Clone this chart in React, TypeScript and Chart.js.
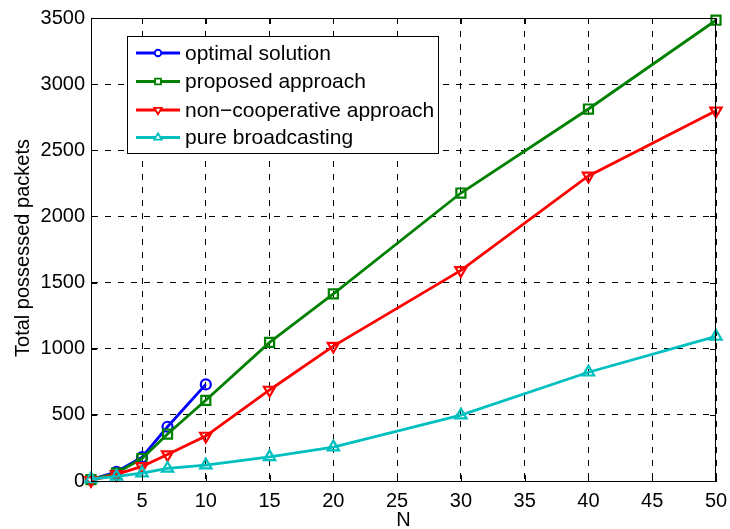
import React, { useEffect, useRef } from "react";
import { Chart, registerables } from "chart.js";
import { drawPoint } from "chart.js/helpers";

Chart.register(...registerables);

const X_ALL = [1, 3, 5, 7, 10, 15, 20, 30, 40, 50];
const X_OPT = [1, 3, 5, 7, 10];
const OPTIMAL = [10, 70, 180, 410, 730];
const PROPOSED = [10, 60, 170, 355, 610, 1048, 1414, 2177, 2812, 3483];
const NONCOOP = [5, 50, 110, 200, 340, 688, 1020, 1592, 2306, 2798];
const PURE = [15, 35, 60, 95, 120, 182, 256, 498, 822, 1094];
const X_TICKS = [5, 10, 15, 20, 25, 30, 35, 40, 45, 50];
const Y_TICKS = [0, 500, 1000, 1500, 2000, 2500, 3000, 3500];
const LABELS = ["optimal solution", "proposed approach", "non\u2212cooperative approach", "pure broadcasting"];
const COLORS = ["#0000ff", "#008000", "#ff0000", "#00bfbf"];
const STYLES = ["circle", "rect", "triangle", "triangle"];
const ROTATIONS = [0, 0, 180, 0];
const RADII = [5, 6.4, 6.5, 6.5];

const FONT = "'Liberation Sans', Arial, Helvetica, sans-serif";

const toPts = (xs: number[], ys: number[]) => ys.map((y, i) => ({ x: xs[i], y }));

const framePlugin = {
  id: "frame",
  beforeDraw(chart: any) {
    const ctx = chart.ctx;
    ctx.save();
    ctx.fillStyle = "#ffffff";
    ctx.fillRect(0, 0, chart.width, chart.height);
    ctx.restore();
  },
  afterDraw(chart: any) {
    const ctx = chart.ctx;
    const { left, right, top, bottom } = chart.chartArea;
    const xs = chart.scales.x;
    const ys = chart.scales.y;
    ctx.save();
    ctx.strokeStyle = "#000";
    ctx.lineWidth = 1;
    ctx.setLineDash([]);
    ctx.strokeRect(left + 0.5, top + 0.5, right - left - 1, bottom - top);
    const tl = 6;
    ctx.beginPath();
    X_TICKS.forEach((v) => {
      const px = Math.round(xs.getPixelForValue(v)) + 0.5;
      ctx.moveTo(px, bottom);
      ctx.lineTo(px, bottom - tl);
      ctx.moveTo(px, top);
      ctx.lineTo(px, top + tl);
    });
    Y_TICKS.forEach((v) => {
      const py = Math.round(ys.getPixelForValue(v)) + 0.5;
      ctx.moveTo(left, py);
      ctx.lineTo(left + tl, py);
      ctx.moveTo(right, py);
      ctx.lineTo(right - tl, py);
    });
    ctx.stroke();

    // axis titles
    ctx.fillStyle = "#000";
    ctx.font = `20px ${FONT}`;
    ctx.textAlign = "center";
    ctx.textBaseline = "middle";
    ctx.fillText("N", (left + right) / 2, 520);
    ctx.save();
    ctx.translate(23, 248);
    ctx.rotate(-Math.PI / 2);
    ctx.fillText("Total possessed packets", 0, 0);
    ctx.restore();

    // legend
    const bx = 127, by = 36, bw = 311, bh = 117;
    ctx.fillStyle = "#fff";
    ctx.fillRect(bx, by, bw, bh);
    ctx.strokeStyle = "#000";
    ctx.lineWidth = 1;
    ctx.strokeRect(bx + 0.5, by + 0.5, bw, bh);
    const rows = [53, 81.5, 110, 137.5];
    LABELS.forEach((lab, i) => {
      const y = rows[i];
      ctx.strokeStyle = COLORS[i];
      ctx.lineWidth = 2.8;
      ctx.beginPath();
      ctx.moveTo(136, y);
      ctx.lineTo(180, y);
      ctx.stroke();
      ctx.lineWidth = 1.8;
      ctx.fillStyle = "#ffffff";
      drawPoint(ctx, {
        pointStyle: STYLES[i],
        radius: RADII[i] * 0.65,
        rotation: ROTATIONS[i],
        borderWidth: 1.8,
      } as any, 158, y);
      ctx.fillStyle = "#000";
      ctx.textAlign = "left";
      ctx.textBaseline = "middle";
      ctx.font = `21px ${FONT}`;
      ctx.fillText(lab, 185, y + 1);
    });
    ctx.restore();
  },
};

export default function App() {
  const ref = useRef<HTMLCanvasElement | null>(null);
  useEffect(() => {
    if (!ref.current) return;
    const series = [
      toPts(X_OPT, OPTIMAL),
      toPts(X_ALL, PROPOSED),
      toPts(X_ALL, NONCOOP),
      toPts(X_ALL, PURE),
    ];
    const chart = new Chart(ref.current, {
      type: "line",
      data: {
        datasets: series.map((d, i) => ({
          label: LABELS[i],
          data: d,
          borderColor: COLORS[i],
          backgroundColor: "rgba(0,0,0,0)",
          pointBackgroundColor: "rgba(0,0,0,0)",
          pointBorderColor: COLORS[i],
          pointBorderWidth: 2.2,
          pointStyle: STYLES[i] as any,
          pointRotation: ROTATIONS[i],
          pointRadius: RADII[i],
          borderWidth: 2.8,
          tension: 0,
          fill: false,
          order: 3 - i,
          clip: false as any,
        })),
      },
      options: {
        animation: false,
        responsive: false,
        layout: { padding: { left: 0, right: 14, top: 18, bottom: 0 } },
        plugins: { legend: { display: false }, tooltip: { enabled: false } },
        scales: {
          x: {
            type: "linear",
            min: 1,
            max: 50,
            afterBuildTicks: (s: any) => {
              s.ticks = X_TICKS.map((v) => ({ value: v }));
            },
            afterFit: (s: any) => {
              s.height = 48;
              s.paddingLeft = 0;
              s.paddingRight = 0;
            },
            grid: {
              color: "#000",
              lineWidth: 1,
              drawTicks: false,
            },
            border: { display: true, color: "#000", dash: [6, 7] } as any,
            ticks: {
              color: "#000",
              font: { family: FONT, size: 20 },
              padding: 8,
              maxRotation: 0,
              autoSkip: false,
              callback: (v: any) => String(v),
            },
          },
          y: {
            type: "linear",
            min: 0,
            max: 3500,
            afterBuildTicks: (s: any) => {
              s.ticks = Y_TICKS.map((v) => ({ value: v }));
            },
            afterFit: (s: any) => {
              s.width = 91;
              s.paddingTop = 0;
              s.paddingBottom = 0;
            },
            grid: {
              color: "#000",
              lineWidth: 1,
              drawTicks: false,
            },
            border: { display: true, color: "#000", dash: [6, 7] } as any,
            ticks: {
              color: "#000",
              font: { family: FONT, size: 20 },
              padding: 6,
              autoSkip: false,
              callback: (v: any) => String(v),
            },
          },
        },
      },
      plugins: [framePlugin],
    });
    return () => chart.destroy();
  }, []);
  return (
    <div style={{ position: "absolute", left: 0, top: 0, width: 730, height: 529 }}>
      <canvas ref={ref} width={730} height={529} style={{ width: 730, height: 529, display: "block" }} />
    </div>
  );
}
